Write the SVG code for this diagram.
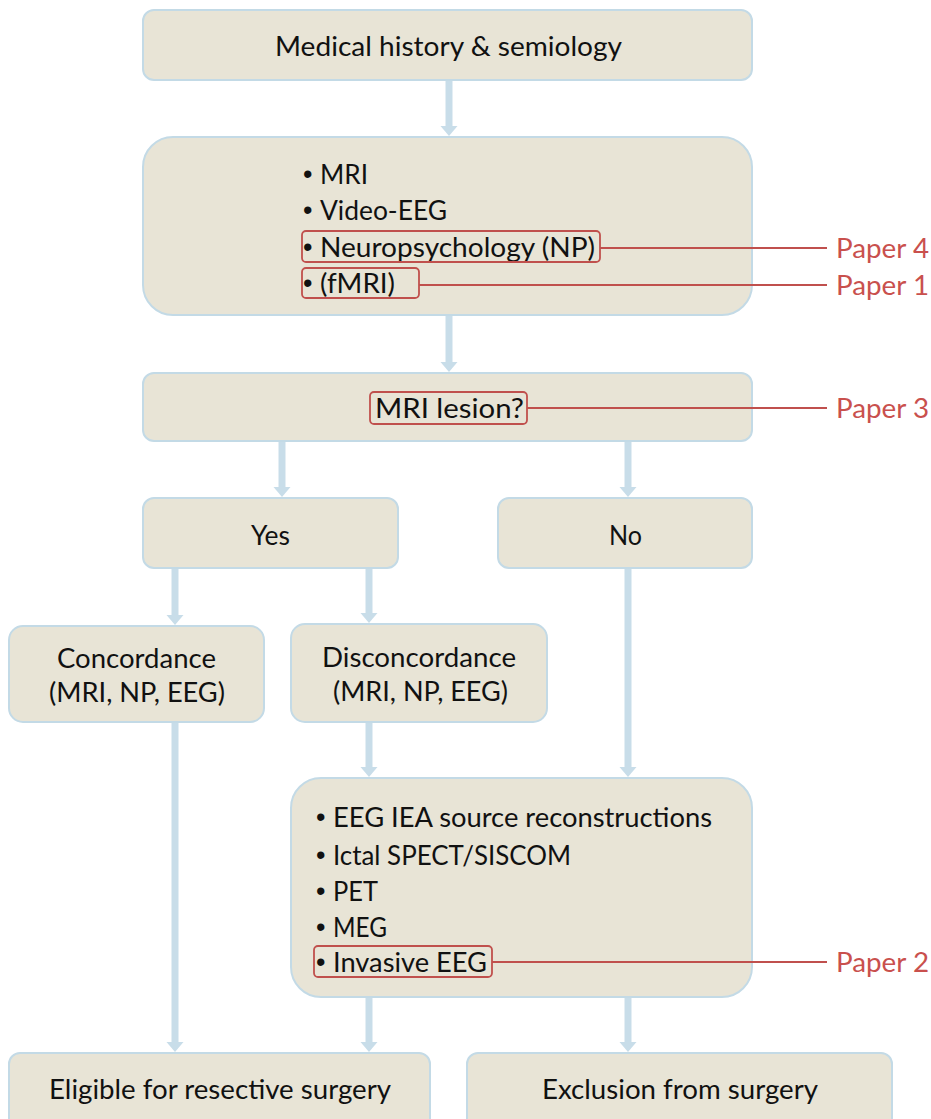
<svg xmlns="http://www.w3.org/2000/svg" width="931" height="1119" viewBox="0 0 931 1119">
<style>
.box{fill:#E8E4D6;stroke:#C3DAE6;stroke-width:2}
.t{font-family:Lato,"Open Sans","Liberation Sans",sans-serif;font-size:27px;fill:#111}
.b{font-family:"Liberation Sans",sans-serif;font-size:27px;fill:#111}
.hl{fill:none;stroke:#C0504D;stroke-width:1.8}
.ln{stroke:#C0504D;stroke-width:1.8}
.p{font-family:Lato,"Open Sans","Liberation Sans",sans-serif;font-size:27px;fill:#C9504D}
.arr{stroke:#C8DDE9;stroke-width:7;fill:none;marker-end:url(#ah)}
</style>
<defs>
<marker id="ah" viewBox="0 -9 10 18" refX="2" refY="0" markerWidth="10" markerHeight="18" markerUnits="userSpaceOnUse" orient="auto">
<path d="M0,-8.5 L10,0 L0,8.5 z" fill="#C8DDE9"/>
</marker>
</defs>
<rect width="931" height="1119" fill="#fff"/>
<g id="connectors">
<line class="arr" x1="449" y1="81" x2="449" y2="128"/>
<line class="arr" x1="449" y1="316" x2="449" y2="364"/>
<line class="arr" x1="282" y1="442" x2="282" y2="489"/>
<line class="arr" x1="628" y1="442" x2="628" y2="489"/>
<line class="arr" x1="175" y1="569" x2="175" y2="617"/>
<line class="arr" x1="369" y1="569" x2="369" y2="615"/>
<line class="arr" x1="628" y1="569" x2="628" y2="769"/>
<line class="arr" x1="369" y1="723" x2="369" y2="769"/>
<line class="arr" x1="175" y1="723" x2="175" y2="1044"/>
<line class="arr" x1="369" y1="998" x2="369" y2="1044"/>
<line class="arr" x1="628" y1="998" x2="628" y2="1044"/>
</g>
<g id="n1">
<rect class="box" x="143" y="10" width="609" height="70" rx="11"/>
<text class="t" x="275" y="56" textLength="347" lengthAdjust="spacingAndGlyphs">Medical history &amp; semiology</text>
</g>
<g id="n2">
<rect class="box" x="143" y="137" width="609" height="178" rx="30"/>
<text class="b" x="303" y="183">•</text><text class="t" x="320" y="184" textLength="48" lengthAdjust="spacingAndGlyphs">MRI</text>
<text class="b" x="303" y="219">•</text><text class="t" x="320" y="220" textLength="127" lengthAdjust="spacingAndGlyphs">Video-EEG</text>
<text class="b" x="303" y="256">•</text><text class="t" x="320" y="257" textLength="275" lengthAdjust="spacingAndGlyphs">Neuropsychology (NP)</text>
<text class="b" x="303" y="292">•</text><text class="t" x="320" y="293" textLength="75" lengthAdjust="spacingAndGlyphs">(fMRI)</text>
<rect class="hl" x="302" y="231" width="298" height="31" rx="4"/>
<rect class="hl" x="302" y="268" width="117" height="30" rx="4"/>
</g>
<g id="n3">
<rect class="box" x="143" y="373" width="609" height="68" rx="11"/>
<text class="t" x="375" y="418" textLength="149" lengthAdjust="spacingAndGlyphs">MRI lesion?</text>
<rect class="hl" x="370" y="392" width="157" height="32" rx="4"/>
</g>
<g id="n4">
<rect class="box" x="143" y="498" width="255" height="70" rx="11"/>
<text class="t" x="251" y="545" textLength="39" lengthAdjust="spacingAndGlyphs">Yes</text>
</g>
<g id="n5">
<rect class="box" x="498" y="498" width="254" height="70" rx="11"/>
<text class="t" x="609" y="545" textLength="33" lengthAdjust="spacingAndGlyphs">No</text>
</g>
<g id="n6">
<rect class="box" x="9" y="626" width="255" height="96" rx="14"/>
<text class="t" x="57" y="668" textLength="159" lengthAdjust="spacingAndGlyphs">Concordance</text>
<text class="t" x="49" y="702" textLength="176" lengthAdjust="spacingAndGlyphs">(MRI, NP, EEG)</text>
</g>
<g id="n7">
<rect class="box" x="291" y="624" width="256" height="98" rx="14"/>
<text class="t" x="322" y="667" textLength="194" lengthAdjust="spacingAndGlyphs">Disconcordance</text>
<text class="t" x="333" y="701" textLength="175" lengthAdjust="spacingAndGlyphs">(MRI, NP, EEG)</text>
</g>
<g id="n8">
<rect class="box" x="291" y="778" width="461" height="219" rx="30"/>
<text class="b" x="316" y="826">•</text><text class="t" x="333" y="827" textLength="379" lengthAdjust="spacingAndGlyphs">EEG IEA source reconstructions</text>
<text class="b" x="316" y="864">•</text><text class="t" x="333" y="865" textLength="238" lengthAdjust="spacingAndGlyphs">Ictal SPECT/SISCOM</text>
<text class="b" x="316" y="900">•</text><text class="t" x="333" y="901" textLength="45" lengthAdjust="spacingAndGlyphs">PET</text>
<text class="b" x="316" y="936">•</text><text class="t" x="333" y="937" textLength="54" lengthAdjust="spacingAndGlyphs">MEG</text>
<text class="b" x="316" y="971">•</text><text class="t" x="333" y="972" textLength="154" lengthAdjust="spacingAndGlyphs">Invasive EEG</text>
<rect class="hl" x="314" y="946" width="178" height="31" rx="4"/>
</g>
<g id="n9">
<rect class="box" x="9" y="1053" width="421" height="80" rx="11"/>
<text class="t" x="49" y="1099" textLength="342" lengthAdjust="spacingAndGlyphs">Eligible for resective surgery</text>
</g>
<g id="n10">
<rect class="box" x="467" y="1053" width="425" height="80" rx="11"/>
<text class="t" x="542" y="1099" textLength="276" lengthAdjust="spacingAndGlyphs">Exclusion from surgery</text>
</g>
<g id="annotations">
<line class="ln" x1="600" y1="248" x2="827" y2="248"/>
<text class="p" x="836" y="258" textLength="93" lengthAdjust="spacingAndGlyphs">Paper 4</text>
<line class="ln" x1="419" y1="285" x2="827" y2="285"/>
<text class="p" x="836" y="295" textLength="93" lengthAdjust="spacingAndGlyphs">Paper 1</text>
<line class="ln" x1="527" y1="408" x2="827" y2="408"/>
<text class="p" x="836" y="418" textLength="93" lengthAdjust="spacingAndGlyphs">Paper 3</text>
<line class="ln" x1="492" y1="962" x2="827" y2="962"/>
<text class="p" x="836" y="972" textLength="93" lengthAdjust="spacingAndGlyphs">Paper 2</text>
</g>
</svg>
